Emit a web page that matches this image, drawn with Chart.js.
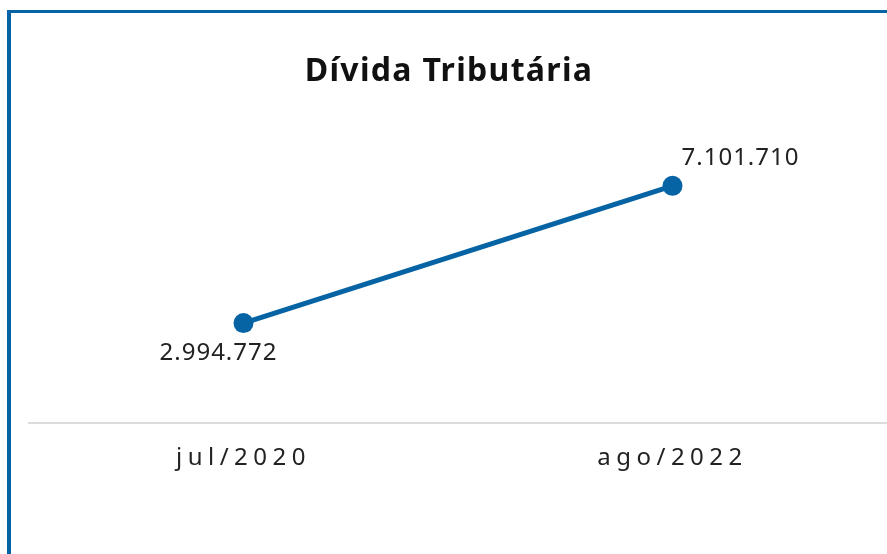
<!DOCTYPE html>
<html>
<head>
<meta charset="utf-8">
<script src="https://cdn.jsdelivr.net/npm/chart.js@4/dist/chart.umd.min.js"></script>
<style>
  html, body { margin: 0; padding: 0; background: #fff; overflow: hidden; }
  #frame { position: absolute; left: 7px; top: 10px; width: 2000px; height: 2000px;
           border-left: 4px solid #0663a4; border-top: 3px solid #0663a4; box-sizing: border-box; }
  #wrap { position: absolute; left: 0; top: 0; width: 887px; height: 554px; }
</style>
</head>
<body>
<div id="frame"></div>
<div id="wrap"><canvas id="c" width="887" height="554"></canvas></div>
<script>
const titleText = 'Dívida Tributária';
const categories = ['jul/2020', 'ago/2022'];
const divida = [2994772, 7101710];
const yMin = 0;
const yMax = 10000000;

const fmt = v => v.toString().replace(/\B(?=(\d{3})+(?!\d))/g, '.');

const labelOffsets = [[-25, 30], [68, -28]];

const customDraw = {
  id: 'customDraw',
  beforeDraw(chart) {
    chart.ctx.letterSpacing = '5.5px';
  },
  afterDraw(chart) {
    const ctx = chart.ctx;
    ctx.save();
    ctx.letterSpacing = '1.3px';
    ctx.fillStyle = '#111';
    ctx.font = 'bold 32px "Noto Sans"';
    ctx.textAlign = 'center';
    ctx.textBaseline = 'middle';
    ctx.fillText(titleText, 449, 72);
    ctx.letterSpacing = '1px';
    ctx.font = '24px "Noto Sans"';
    ctx.fillStyle = '#222';
    const meta = chart.getDatasetMeta(0);
    meta.data.forEach((pt, i) => {
      const [dx, dy] = labelOffsets[i];
      ctx.fillText(fmt(divida[i]), pt.x + dx, pt.y + dy);
    });
    ctx.restore();
    ctx.letterSpacing = '0px';
  }
};

new Chart(document.getElementById('c'), {
  type: 'line',
  data: {
    labels: categories,
    datasets: [{
      data: divida,
      borderColor: '#0663a4',
      backgroundColor: '#0663a4',
      borderWidth: 5,
      pointRadius: 10,
      pointHoverRadius: 10,
      pointBackgroundColor: '#0663a4',
      pointBorderWidth: 0,
      clip: false,
      tension: 0
    }]
  },
  options: {
    responsive: false,
    animation: false,
    events: [],
    layout: { autoPadding: false, padding: { top: 89, left: 29, right: 0, bottom: 60 } },
    plugins: { legend: { display: false }, title: { display: false }, tooltip: { enabled: false } },
    scales: {
      x: {
        offset: true,
        grid: { display: false, drawTicks: false },
        border: { display: true, color: '#dcdcdc', width: 2 },
        ticks: { color: '#222', padding: 21, font: { family: '"Noto Sans"', size: 24 } }
      },
      y: { display: false, min: yMin, max: yMax }
    }
  },
  plugins: [customDraw]
});
</script>
</body>
</html>
